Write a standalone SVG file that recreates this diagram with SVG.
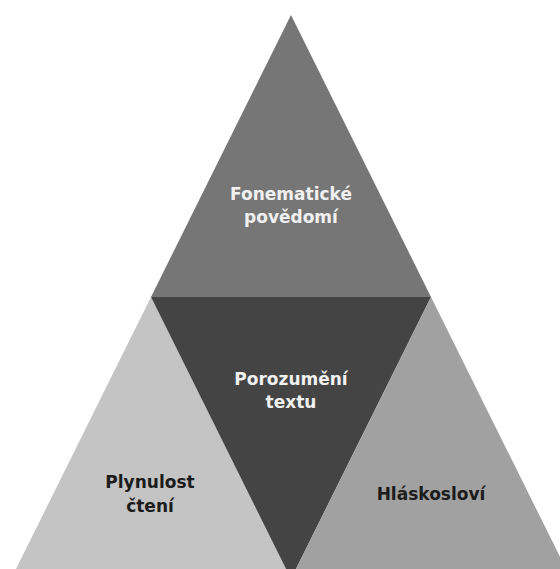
<svg xmlns="http://www.w3.org/2000/svg" width="560" height="569" viewBox="0 0 560 569">
<style>
text{font-family:"DejaVu Sans","Verdana",sans-serif;font-weight:bold;font-size:17px;text-anchor:middle}
.lt{fill:#f0f0f0}
.dk{fill:#1c1c1c}
</style>
<rect width="560" height="569" fill="#ffffff"/>
<g id="top">
<polygon points="291,15 151,297 431,297" fill="#767676"/>
<text class="lt" x="291" y="200">Fonematické</text>
<text class="lt" x="291" y="223">povědomí</text>
</g>
<g id="left">
<polygon points="151,297 11,579 291,579" fill="#c4c4c4"/>
<text class="dk" x="150" y="488">Plynulost</text>
<text class="dk" x="150" y="512">čtení</text>
</g>
<g id="center">
<polygon points="151,297 431,297 291,579" fill="#444444"/>
<text class="lt" x="291" y="385">Porozumění</text>
<text class="lt" x="291" y="408">textu</text>
</g>
<g id="right">
<polygon points="431,297 291,579 571,579" fill="#a1a1a1"/>
<text class="dk" x="431" y="500">Hláskosloví</text>
</g>
<g id="connectors"></g>
</svg>
